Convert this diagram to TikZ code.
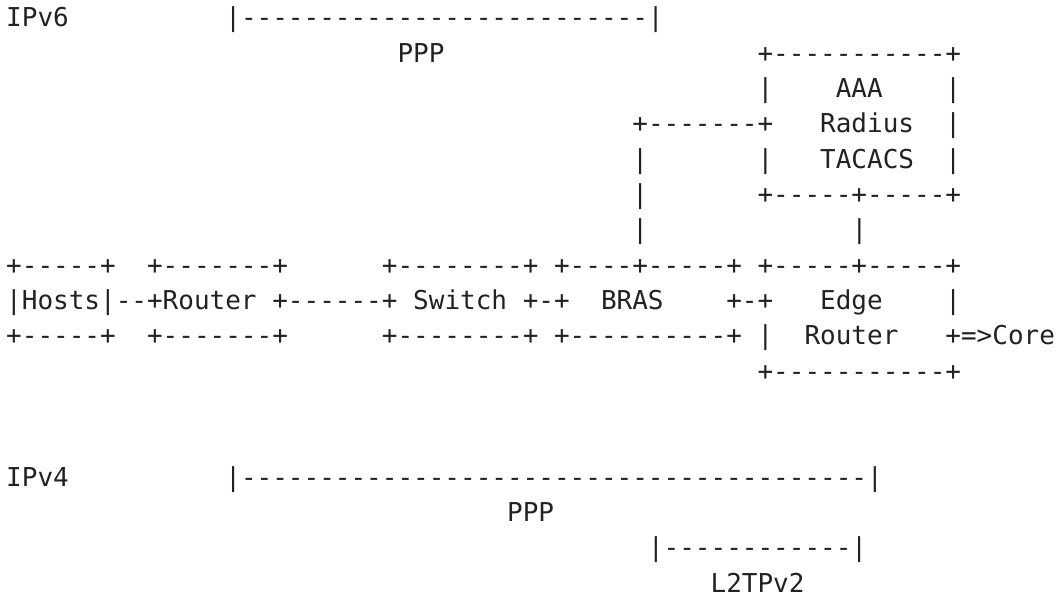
\documentclass[tikz,border=0pt]{standalone}
\usepackage{fontspec}
\setmonofont{DejaVu Sans Mono}
\usepackage{xcolor}
\definecolor{asciiink}{HTML}{222222}

\begin{document}
\begin{tikzpicture}[x=7.8267pt, y=-17.67pt,
  every node/.style={font=\ttfamily\fontsize{13}{15}\selectfont, text=asciiink},
  chars/.style={anchor=base west, inner sep=0pt, outer sep=0pt}]
\useasboundingbox (-3.1pt,13.35pt) rectangle (525.9pt,-283.65pt);
% row/column/characters, one entry per run of text
\foreach \r/\c/\t in {
  1/0/IPv6, 1/14/{|--------------------------|},
  2/25/PPP, 2/48/{+-----------+},
  3/48/{|}, 3/53/AAA, 3/60/{|},
  4/40/{+-------+}, 4/52/Radius, 4/60/{|},
  5/40/{|}, 5/48/{|}, 5/52/TACACS, 5/60/{|},
  6/40/{|}, 6/48/{+-----+-----+},
  7/40/{|}, 7/54/{|},
  8/0/{+-----+}, 8/9/{+-------+}, 8/24/{+--------+}, 8/35/{+----+-----+}, 8/48/{+-----+-----+},
  9/0/{|Hosts|--+Router}, 9/17/{+------+}, 9/26/Switch, 9/33/{+-+}, 9/38/BRAS, 9/46/{+-+}, 9/52/Edge, 9/60/{|},
  10/0/{+-----+}, 10/9/{+-------+}, 10/24/{+--------+}, 10/35/{+----------+}, 10/48/{|}, 10/51/Router, 10/60/{+=>Core},
  11/48/{+-----------+},
  14/0/IPv4, 14/14/{|----------------------------------------|},
  15/32/PPP,
  16/41/{|------------|},
  17/45/L2TPv2}
  \node[chars] (t-\r-\c) at (\c,\r-1) {\t};
\end{tikzpicture}
\end{document}
